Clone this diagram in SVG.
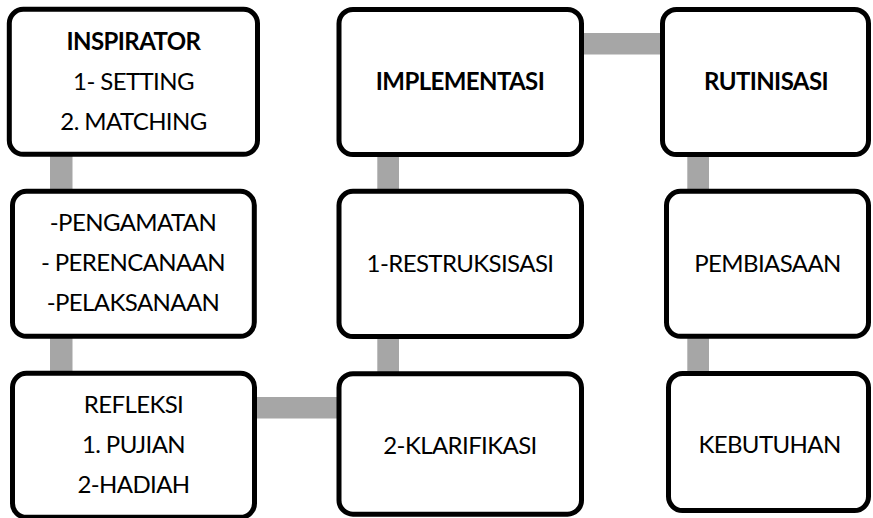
<svg xmlns="http://www.w3.org/2000/svg" width="873" height="518" viewBox="0 0 873 518">
<style>
.box{fill:#fff;stroke:#000;stroke-width:5}
.con{fill:#a6a6a6}
text{font-family:Lato,"Liberation Sans",sans-serif;font-size:24px;letter-spacing:-0.6px;fill:#000;text-anchor:middle}
.b{font-weight:bold}
</style>
<rect width="873" height="518" fill="#fff"/>
<g id="connectors">
<rect class="con" x="50" y="150" width="22.5" height="45"/>
<rect class="con" x="50" y="332" width="22.5" height="45"/>
<rect class="con" x="377.3" y="150" width="21.7" height="45"/>
<rect class="con" x="377.3" y="332" width="21.7" height="45"/>
<rect class="con" x="687.3" y="150" width="21.7" height="45"/>
<rect class="con" x="687.3" y="332" width="21.7" height="45"/>
<rect class="con" x="250" y="397" width="95" height="21.5"/>
<rect class="con" x="578" y="33" width="88" height="21.5"/>
</g>
<g id="inspirator">
<rect class="box" x="9.3" y="9.3" width="248.2" height="145" rx="14"/>
<text class="b" x="133.5" y="50">INSPIRATOR</text>
<text x="133.5" y="90">1- SETTING</text>
<text x="133.5" y="130">2. MATCHING</text>
</g>
<g id="pengamatan">
<rect class="box" x="12.5" y="191.3" width="241.8" height="145" rx="14"/>
<text x="133" y="230.5">-PENGAMATAN</text>
<text x="133" y="270.5">- PERENCANAAN</text>
<text x="133" y="310.5">-PELAKSANAAN</text>
</g>
<g id="refleksi">
<rect class="box" x="12.5" y="373.3" width="242" height="144" rx="14"/>
<text x="133.5" y="412.5">REFLEKSI</text>
<text x="133.5" y="452.5">1. PUJIAN</text>
<text x="133.5" y="492.5">2-HADIAH</text>
</g>
<g id="implementasi">
<rect class="box" x="339" y="9.5" width="242.5" height="145" rx="14"/>
<text class="b" x="460" y="90">IMPLEMENTASI</text>
</g>
<g id="restruksisasi">
<rect class="box" x="339" y="191.3" width="242.5" height="145.2" rx="14"/>
<text x="460" y="272">1-RESTRUKSISASI</text>
</g>
<g id="klarifikasi">
<rect class="box" x="339" y="373.7" width="242.5" height="140.5" rx="14"/>
<text x="460" y="454">2-KLARIFIKASI</text>
</g>
<g id="rutinisasi">
<rect class="box" x="662.5" y="9.5" width="206" height="145" rx="14"/>
<text class="b" x="766" y="90">RUTINISASI</text>
</g>
<g id="pembiasaan">
<rect class="box" x="666.5" y="191.3" width="202" height="145" rx="14"/>
<text x="767.5" y="272">PEMBIASAAN</text>
</g>
<g id="kebutuhan">
<rect class="box" x="668.5" y="373.5" width="200" height="137" rx="14"/>
<text x="769.5" y="452.7">KEBUTUHAN</text>
</g>
</svg>
